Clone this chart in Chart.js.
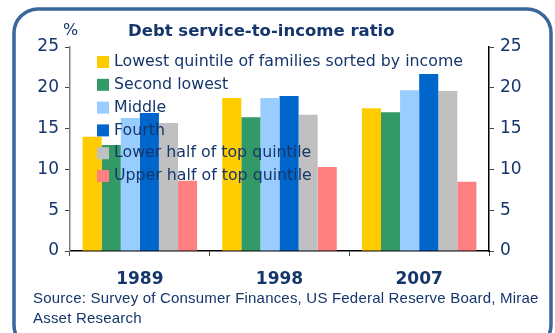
<!DOCTYPE html>
<html>
<head>
<meta charset="utf-8">
<script src="https://cdn.jsdelivr.net/npm/chart.js@4"></script>
<style>
  html, body { margin: 0; padding: 0; background: #fff; }
  #wrap { width: 555px; height: 333px; position: relative; }
</style>
</head>
<body>
<div id="wrap"><canvas id="chart"></canvas></div>
<script>
// ── Data
const years   = ['1989', '1998', '2007'];
const lowest  = [14.0, 18.75, 17.5];
const second  = [13.0, 16.4, 17.0];
const middle  = [16.3, 18.75, 19.7];
const fourth  = [16.9, 19.0, 21.7];
const lowTop  = [15.7, 16.7, 19.6];
const upTop   = [8.6, 10.3, 8.5];
const seriesNames = [
  'Lowest quintile of families sorted by income',
  'Second lowest',
  'Middle',
  'Fourth',
  'Lower half of top quintile',
  'Upper half of top quintile'
];
const yTicks = [0, 5, 10, 15, 20, 25];

const NAVY   = '#15366b';
const colors = ['#ffcc00', '#339966', '#99ccff', '#0066cc', '#c0c0c0', '#ff8080'];
const values = [lowest, second, middle, fourth, lowTop, upTop];

// ── Frame, title, legend, source
const decor = {
  id: 'decor',
  beforeDraw(chart) {
    const ctx = chart.ctx;
    ctx.save();
    ctx.strokeStyle = '#3a679c';
    ctx.lineWidth = 3.5;
    ctx.beginPath();
    ctx.roundRect(14, 9, 537, 340, 24);
    ctx.stroke();
    ctx.restore();
  },
  afterDraw(chart) {
    const ctx = chart.ctx;
    ctx.save();
    ctx.fillStyle = NAVY;
    ctx.textBaseline = 'middle';
    ctx.font = 'bold 16.5px "DejaVu Sans"';
    ctx.fillText('Debt service-to-income ratio', 128, 32);
    ctx.font = '16px "DejaVu Sans"';
    ctx.fillText('%', 63, 31);

    // legend over the bars
    ctx.font = '15.8px "DejaVu Sans"';
    chart.data.datasets.forEach((ds, i) => {
      const y = 62 + i * 22.8;
      ctx.fillStyle = ds.backgroundColor;
      ctx.fillRect(97, y - 6, 12, 12);
      ctx.fillStyle = NAVY;
      ctx.fillText(ds.label, 114, y);
    });

    ctx.font = '15px "Liberation Sans"';
    ctx.letterSpacing = '0.2px';
    ctx.fillText('Source: Survey of Consumer Finances, US Federal Reserve Board, Mirae', 33, 299);
    ctx.fillText('Asset Research', 33, 319);
    ctx.restore();
  }
};

const tickFont = { family: 'DejaVu Sans', size: 17 };

new Chart(document.getElementById('chart'), {
  type: 'bar',
  data: {
    labels: years,
    datasets: values.map((v, i) => ({
      label: seriesNames[i],
      data: v,
      backgroundColor: colors[i],
      borderWidth: 0,
      categoryPercentage: 0.82,
      barPercentage: 1.0
    }))
  },
  options: {
    responsive: true,
    maintainAspectRatio: false,
    animation: false,
    layout: { padding: { top: 47, left: 0, right: 0, bottom: 0 } },
    plugins: { legend: { display: false }, tooltip: { enabled: false } },
    scales: {
      x: {
        afterFit: s => { s.height = 82; },
        border: { color: '#000', width: 1.5 },
        grid: { display: true, drawOnChartArea: false, tickLength: 5, color: '#444', offset: true },
        ticks: { color: NAVY, font: { family: 'DejaVu Sans', size: 17, weight: 'bold' }, padding: 13 }
      },
      y: {
        position: 'left',
        min: 0, max: 25,
        afterFit: s => { s.width = 70; },
        afterBuildTicks: s => { s.ticks = yTicks.map(v => ({ value: v })); },
        border: { color: '#7f7f7f', width: 1.5 },
        grid: { drawOnChartArea: false, tickLength: 5, color: '#444' },
        ticks: { color: NAVY, font: tickFont, padding: 6 }
      },
      y2: {
        position: 'right',
        min: 0, max: 25,
        afterFit: s => { s.width = 66; },
        afterBuildTicks: s => { s.ticks = yTicks.map(v => ({ value: v })); },
        border: { color: '#000', width: 1.5 },
        grid: { drawOnChartArea: false, tickLength: 5, color: '#444' },
        ticks: { color: NAVY, font: tickFont, padding: 6 }
      }
    }
  },
  plugins: [decor]
});
</script>
</body>
</html>
